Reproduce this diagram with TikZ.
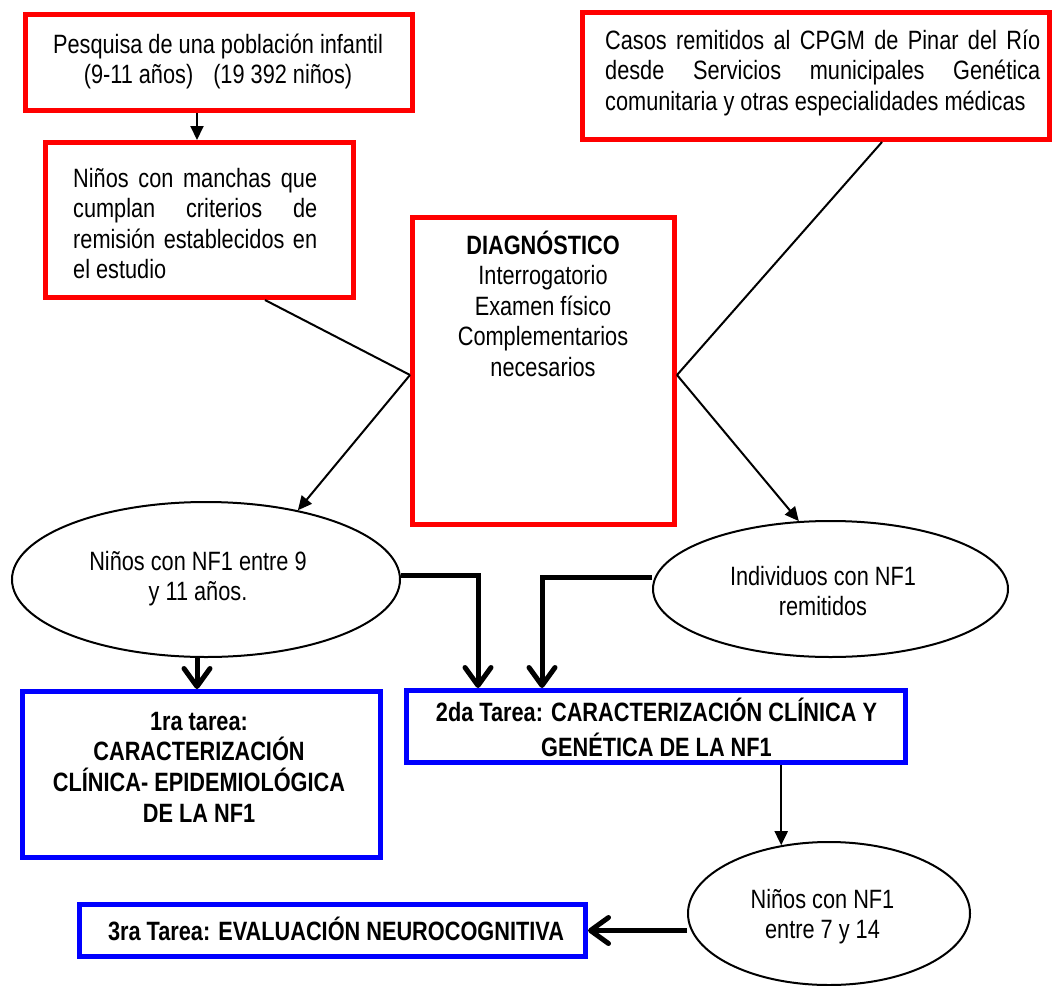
\documentclass[tikz,border=0pt]{standalone}
\usepackage{fontspec}
\setmainfont{Liberation Sans}[FakeStretch=0.82]
\usetikzlibrary{arrows.meta,shapes.geometric}
\begin{document}
\begin{tikzpicture}[x=1bp,y=-1bp,
  txt/.style={inner sep=0pt, font=\fontsize{26.5bp}{30.5bp}\selectfont},
  redbox/.style={draw=red, line width=5bp, rectangle, inner sep=0pt},
  bluebox/.style={draw=blue, line width=5bp, rectangle, inner sep=0pt},
  oval/.style={draw=black, line width=2bp, ellipse, inner sep=0pt},
  thinline/.style={line width=2bp},
  thinarrow/.style={line width=2bp, -{Triangle[length=14bp,width=13bp]}},
  thickarrow/.style={line width=5bp, -{Straight Barb[length=18bp,width=26bp,round]}},
]
\useasboundingbox (0,0) rectangle (1052,986);

% boxes and ovals
\node[redbox, minimum width=387bp, minimum height=96bp]  (r1) at (219,62.5) {};
\node[redbox, minimum width=308bp, minimum height=155bp] (r2) at (199.5,220) {};
\node[redbox, minimum width=467bp, minimum height=127bp] (r3) at (816,76) {};
\node[redbox, minimum width=262bp, minimum height=307bp] (d)  at (543.5,371) {};
\node[oval, minimum width=388bp, minimum height=155bp]   (e1) at (206,579.5) {};
\node[oval, minimum width=355bp, minimum height=136bp]   (e2) at (830.5,589) {};
\node[bluebox, minimum width=358bp, minimum height=166bp] (b1) at (201.5,774.5) {};
\node[bluebox, minimum width=499bp, minimum height=72bp]  (b2) at (656,726.5) {};
\node[oval, minimum width=282bp, minimum height=143bp]   (e3) at (829,913.5) {};
\node[bluebox, minimum width=506bp, minimum height=52bp]  (b3) at (332.5,930.5) {};

% texts
\node[txt, anchor=base] (t1) at (218,53)
  {\parbox[t]{380bp}{\centering Pesquisa de una población infantil\\(9-11 años)\hspace*{20bp}(19 392 niños)}};
\node[txt, anchor=base west] (t2) at (73,187)
  {\parbox[t]{244bp}{\makebox[244bp][s]{Niños con manchas que}\\
   \makebox[244bp][s]{cumplan criterios de}\\
   \makebox[244bp][s]{remisión establecidos en}\\
   el estudio}};
\node[txt, anchor=base west] (t3) at (605,49)
  {\parbox[t]{435bp}{\makebox[435bp][s]{Casos remitidos al CPGM de Pinar del Río}\\
   \makebox[435bp][s]{desde Servicios municipales Genética}\\
   comunitaria y otras especialidades médicas}};
\node[txt, anchor=base] (t4) at (543,254)
  {\parbox[t]{250bp}{\centering\textbf{DIAGNÓSTICO}\\Interrogatorio\\Examen físico\\Complementarios\\necesarios}};
\node[txt, anchor=base] (t5) at (198,570)
  {\parbox[t]{370bp}{\centering Niños con NF1 entre 9\\y 11 años.}};
\node[txt, anchor=base] (t6) at (823,585)
  {\parbox[t]{340bp}{\centering Individuos con NF1\\remitidos}};
\node[txt, anchor=base] (t7) at (822.5,908)
  {\parbox[t]{270bp}{\centering Niños con NF1\\entre 7 y 14}};
\node[txt, anchor=base, font=\fontsize{26.5bp}{30.7bp}\selectfont\bfseries] (t8) at (199,730)
  {\parbox[t]{350bp}{\centering 1ra tarea:\\CARACTERIZACIÓN\\CLÍNICA- EPIDEMIOLÓGICA\\DE LA NF1}};
\node[txt, anchor=base, font=\fontsize{26.5bp}{35bp}\selectfont\bfseries] (t9) at (656.5,721)
  {\parbox[t]{490bp}{\centering 2da Tarea: CARACTERIZACIÓN CLÍNICA Y\\GENÉTICA DE LA NF1}};
\node[txt, anchor=base, font=\fontsize{26.5bp}{30bp}\selectfont\bfseries] (t10) at (336,940)
  {3ra Tarea: EVALUACIÓN NEUROCOGNITIVA};

% thin connectors
\coordinate (dl) at (410,375);
\coordinate (dr) at (677,375);
\draw[thinarrow] (197,0 |- r1.south) -- (197,0 |- r2.north);
\draw[thinline] (265,0 |- r2.south) -- (dl);
\draw[thinarrow] (dl) -- (e1.37);
\draw[thinline] (882,0 |- r3.south) -- (dr);
\draw[thinarrow] (dr) -- (e2.115);
\draw[thinarrow] (e3.125 |- b2.south) -- (e3.125);

% thick connectors
\coordinate (j1) at (478,575);
\coordinate (j2) at (542,577);
\draw[thickarrow] (e1.east |- j1) -- (j1) -- (j1 |- b2.north);
\draw[thickarrow] (e2.west |- j2) -- (j2) -- (j2 |- b2.north);
\draw[thickarrow] (197,0 |- e1.south) -- (197,0 |- b1.north);
\draw[thickarrow] (e3.west |- b3.east) -- (b3.east);
\end{tikzpicture}
\end{document}
